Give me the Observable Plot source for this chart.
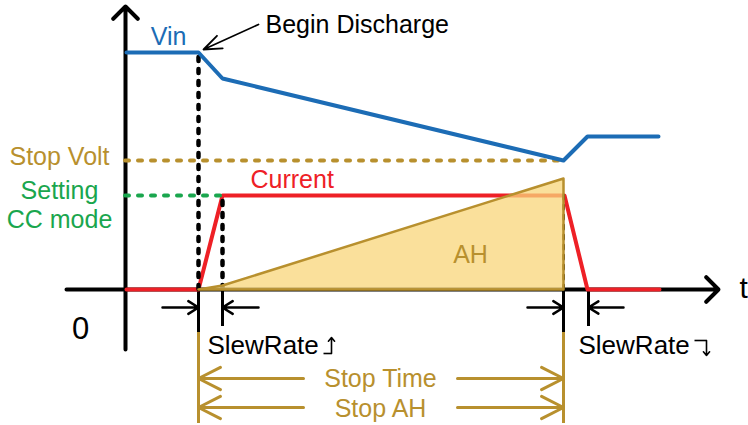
<!DOCTYPE html>
<html>
<head>
<meta charset="utf-8">
<script src="https://cdn.jsdelivr.net/npm/d3@7"></script>
<script src="https://cdn.jsdelivr.net/npm/@observablehq/plot@0.6"></script>
<style>
  html, body { margin: 0; padding: 0; background: #fff; }
</style>
</head>
<body>
<div id="chart"></div>
<script>
// ---- Diagram data (time units to the right of the V axis, value units above the t axis) ----
const vinTime = [1, 73, 97, 438, 462, 533];
const vinVolt = [237, 237, 211, 129, 153, 153];
const curTime = [1, 73, 97, 439, 462, 534];
const curAmp  = [0, 0, 94, 94, 0, 0];
const ahTime  = [73, 97, 438];
const ahTop   = [0, 4, 111];
const stopVoltLevel = 129;
const ccSettingLevel = 94;
const eventTimes = { begin: 73, ccReached: 97, stop: 438, end: 462 };

// text labels
const labelVin = "Vin";
const labelBegin = "Begin Discharge";
const labelStopVolt = "Stop Volt";
const labelSetting = ["Setting", "CC mode"];
const labelCurrent = "Current";
const labelAH = "AH";
const labelZero = "0";
const labelT = "t";
const labelSlew = "SlewRate";
const labelStopTime = "Stop Time";
const labelStopAH = "Stop AH";

// colours
const BLUE = "#1c6cb5", RED = "#ee2026", GOLD = "#b8902e", GREEN = "#1aa64e";

const vinData = vinTime.map((t, i) => ({t, v: vinVolt[i]}));
const curData = curTime.map((t, i) => ({t, v: curAmp[i]}));
const ahData  = ahTime.map((t, i) => ({t, v: ahTop[i]}));
const ahOutline = [...ahData, {t: ahTime[ahTime.length - 1], v: 0}, {t: ahTime[0], v: 0}];

const {begin, ccReached, stop, end} = eventTimes;

// arrows
const axisArrows = [
  {x1: 0, y1: -60, x2: 0, y2: 283},
  {x1: -59, y1: 0, x2: 593, y2: 0}
];
const slewArrows = [
  {x1: begin - 36, y1: -18, x2: begin, y2: -18},
  {x1: ccReached + 36, y1: -18, x2: ccReached, y2: -18},
  {x1: stop - 36, y1: -18, x2: stop, y2: -18},
  {x1: end + 36, y1: -18, x2: end + 1, y2: -18}
];
const stopArrows = [
  {x1: 178, y1: -89, x2: begin, y2: -89},
  {x1: 332, y1: -89, x2: stop, y2: -89},
  {x1: 178, y1: -118, x2: begin, y2: -118},
  {x1: 332, y1: -118, x2: stop, y2: -118}
];
const beginArrow = [{x1: 133, y1: 265, x2: 78, y2: 240}];
// small rising / falling symbols after the SlewRate labels
const slewSymbolFeet = [
  {x1: 198, x2: 206, y: -64},
  {x1: 569, x2: 581, y: -51}
];
const slewSymbolArrows = [
  {x1: 206, y1: -64, x2: 206, y2: -48},
  {x1: 581, y1: -51, x2: 581, y2: -66}
];

const txt = (text, x, y, opts) => Plot.text([text], {x: () => x, y: () => y, text: d => d, lineAnchor: "middle", fontSize: 25, ...opts});

const chart = Plot.plot({
  width: 748,
  height: 425,
  margin: 0,
  x: {domain: [-125, 623], range: [0, 748], axis: null},
  y: {domain: [-136, 289], range: [425, 0], axis: null},
  style: {fontFamily: "'Liberation Sans', Arial, sans-serif", background: "#fff"},
  marks: [
    // axes
    Plot.arrow(axisArrows, {x1: "x1", y1: "y1", x2: "x2", y2: "y2", stroke: "#000", strokeWidth: 4, headLength: 6.5, headAngle: 90}),
    // slew rate guide ticks below t axis
    Plot.ruleX([begin, stop], {x: d => d, y1: 0, y2: -43, stroke: "#000", strokeWidth: 3}),
    Plot.ruleX([ccReached, end + 1], {x: d => d, y1: 0, y2: -37, stroke: "#000", strokeWidth: 3}),
    Plot.ruleX([begin, stop], {x: d => d, y1: -43, y2: -134, stroke: GOLD, strokeWidth: 3}),
    // current
    Plot.line(curData, {x: "t", y: "v", stroke: RED, strokeWidth: 4, strokeLinejoin: "round"}),
    // dotted event lines
    Plot.ruleX([begin], {x: d => d, y1: 0, y2: vinVolt[1], stroke: "#000", strokeWidth: 4.5, strokeDasharray: "4,8", strokeLinecap: "round"}),
    Plot.ruleX([ccReached], {x: d => d, y1: 0, y2: ccSettingLevel, stroke: "#000", strokeWidth: 4.5, strokeDasharray: "4,8", strokeLinecap: "round"}),
    Plot.ruleX([stop], {x: d => d, y1: 0, y2: ccSettingLevel, stroke: "#000", strokeWidth: 3, strokeDasharray: "4,6", strokeLinecap: "round"}),
    // AH area
    Plot.areaY(ahData, {x: "t", y1: 0, y2: "v", fill: "#f8d67a", fillOpacity: 0.75}),
    Plot.line(ahOutline, {x: "t", y: "v", stroke: GOLD, strokeWidth: 2.5, strokeLinejoin: "round"}),
    // stop volt and CC setting levels
    Plot.ruleY([stopVoltLevel], {y: d => d, x1: 0, x2: stop, stroke: GOLD, strokeWidth: 4, strokeDasharray: "4,9", strokeLinecap: "round"}),
    Plot.ruleY([ccSettingLevel], {y: d => d, x1: 0, x2: ccReached, stroke: GREEN, strokeWidth: 4, strokeDasharray: "4,9", strokeLinecap: "round"}),
    // Vin
    Plot.line(vinData, {x: "t", y: "v", stroke: BLUE, strokeWidth: 4, strokeLinejoin: "round", strokeLinecap: "round"}),
    // arrows
    Plot.arrow(slewArrows, {x1: "x1", y1: "y1", x2: "x2", y2: "y2", stroke: "#000", strokeWidth: 2.5, headLength: 10, headAngle: 64}),
    Plot.arrow(stopArrows, {x1: "x1", y1: "y1", x2: "x2", y2: "y2", stroke: GOLD, strokeWidth: 3, headLength: 12.3, headAngle: 54}),
    Plot.arrow(beginArrow, {x1: "x1", y1: "y1", x2: "x2", y2: "y2", stroke: "#000", strokeWidth: 1.8, headLength: 16, headAngle: 42}),
    // slew symbols
    Plot.link(slewSymbolFeet, {x1: "x1", x2: "x2", y1: "y", y2: "y", stroke: "#000", strokeWidth: 1.6}),
    Plot.arrow(slewSymbolArrows, {x1: "x1", y1: "y1", x2: "x2", y2: "y2", stroke: "#000", strokeWidth: 1.6, headLength: 4.5, headAngle: 80}),
    // labels
    txt(labelVin, 43, 253, {fill: BLUE}),
    txt(labelBegin, 140, 265, {fill: "#000", textAnchor: "start"}),
    txt(labelStopVolt, -66, 133, {fill: GOLD}),
    txt(labelSetting[0], -66, 99, {fill: GREEN}),
    txt(labelSetting[1], -66, 70, {fill: GREEN}),
    txt(labelCurrent, 125, 110, {fill: RED, textAnchor: "start"}),
    txt(labelAH, 345, 35, {fill: GOLD}),
    txt(labelZero, -45, -40, {fill: "#000", fontSize: 31}),
    txt(labelT, 614, 1, {fill: "#000", fontSize: 30, textAnchor: "start"}),
    txt(labelSlew, 82, -56, {fill: "#000", textAnchor: "start", fontSize: 26}),
    txt(labelSlew, 453, -56, {fill: "#000", textAnchor: "start", fontSize: 26}),
    txt(labelStopTime, 255, -89, {fill: GOLD}),
    txt(labelStopAH, 255, -119, {fill: GOLD})
  ]
});
document.getElementById("chart").appendChild(chart);
</script>
</body>
</html>
